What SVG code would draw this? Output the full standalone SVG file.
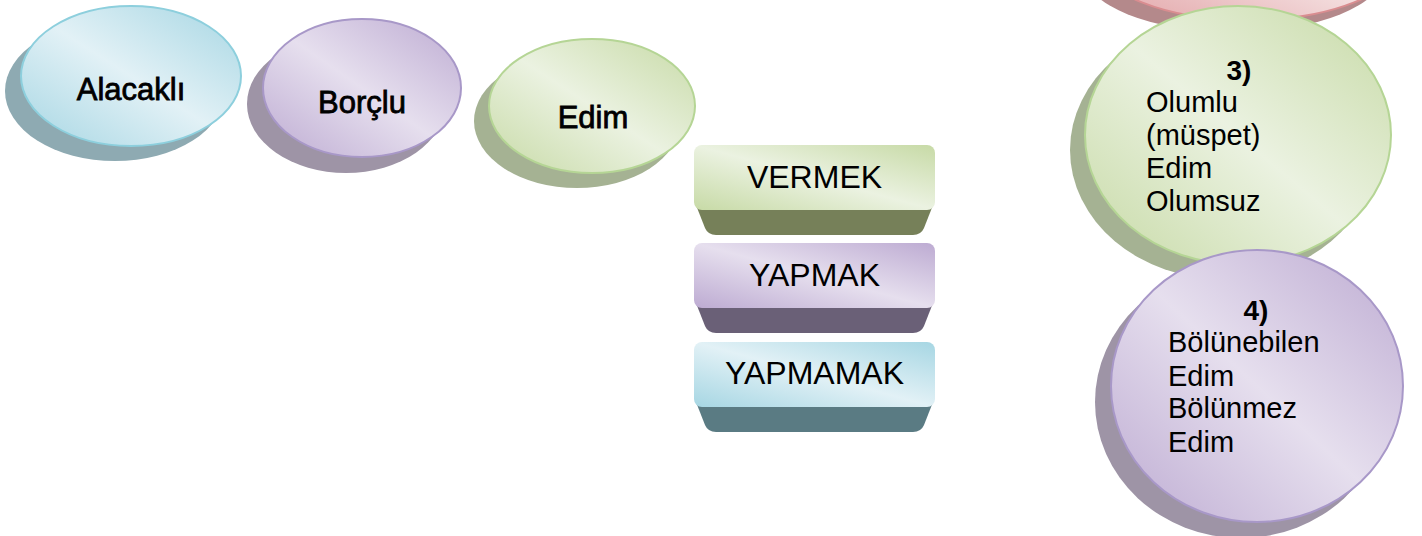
<svg xmlns="http://www.w3.org/2000/svg" width="1422" height="536" viewBox="0 0 1422 536">
<defs>
<linearGradient id="gCyan" x1="0" y1="1" x2="1" y2="0"><stop offset="0" stop-color="#a6d6e3"/><stop offset="0.5" stop-color="#e2f1f6"/><stop offset="1" stop-color="#a6d6e3"/></linearGradient>
<linearGradient id="gPurple" x1="0" y1="1" x2="1" y2="0"><stop offset="0" stop-color="#bdabd2"/><stop offset="0.5" stop-color="#e6dfee"/><stop offset="1" stop-color="#bdabd2"/></linearGradient>
<linearGradient id="gGreen" x1="0" y1="1" x2="1" y2="0"><stop offset="0" stop-color="#c7daa6"/><stop offset="0.5" stop-color="#ebf2e1"/><stop offset="1" stop-color="#c7daa6"/></linearGradient>
<linearGradient id="gPink" x1="0" y1="1" x2="1" y2="0"><stop offset="0" stop-color="#e2a3a6"/><stop offset="0.5" stop-color="#f3dcdd"/><stop offset="1" stop-color="#e2a3a6"/></linearGradient>
<style>
.lbl{font-family:"Liberation Sans",Arial,sans-serif;font-size:31px;fill:#000;stroke:#000;stroke-width:0.8;text-anchor:middle}
.box{font-family:"Liberation Sans",Arial,sans-serif;font-size:32px;fill:#000;text-anchor:middle}
.ct{font-family:"Liberation Sans",Arial,sans-serif;font-size:29px;fill:#000}
.num{font-family:"Liberation Sans",Arial,sans-serif;font-size:28px;font-weight:bold;fill:#000;text-anchor:middle}
.cy{fill:url(#gCyan);stroke:#8dcfdd;stroke-width:2}
.pu{fill:url(#gPurple);stroke:#a898c8;stroke-width:2}
.gr{fill:url(#gGreen);stroke:#b5d595;stroke-width:2}
.pk{fill:url(#gPink);stroke:#d98d90;stroke-width:2}
.shCy{fill:#8eaab2}.shPu{fill:#9e94a6}.shGr{fill:#a5b293}.shPk{fill:#b4898b}
</style>
</defs>
<g id="connectors"/>
<g id="alacakli">
<ellipse class="shCy" cx="115" cy="91" rx="110" ry="70"/>
<ellipse class="cy" cx="131" cy="76" rx="110" ry="70"/>
<text class="lbl" x="131" y="100">Alacaklı</text>
</g>
<g id="borclu">
<ellipse class="shPu" cx="346" cy="104" rx="99" ry="69"/>
<ellipse class="pu" cx="362" cy="88" rx="99" ry="69"/>
<text class="lbl" x="362" y="113">Borçlu</text>
</g>
<g id="edim">
<ellipse class="shGr" cx="577" cy="121" rx="103" ry="67"/>
<ellipse class="gr" cx="592" cy="106" rx="103" ry="67"/>
<text class="lbl" x="593" y="128">Edim</text>
</g>
<g id="vermek">
<path d="M694,200 L705,228 Q708,235 716,235 L913,235 Q921,235 924,228 L935,200 Z" fill="#768059"/>
<rect x="694" y="145" width="241" height="65" rx="8" fill="url(#gGreen)"/>
<text class="box" x="814.5" y="188">VERMEK</text>
</g>
<g id="yapmak">
<path d="M694,298 L705,326 Q708,333 716,333 L913,333 Q921,333 924,326 L935,298 Z" fill="#6a6077"/>
<rect x="694" y="243" width="241" height="65" rx="8" fill="url(#gPurple)"/>
<text class="box" x="814.5" y="286">YAPMAK</text>
</g>
<g id="yapmamak">
<path d="M694,397 L705,425 Q708,432 716,432 L913,432 Q921,432 924,425 L935,397 Z" fill="#5a7b83"/>
<rect x="694" y="342" width="241" height="65" rx="8" fill="url(#gCyan)"/>
<text class="box" x="814.5" y="384">YAPMAMAK</text>
</g>
<g id="pink">
<ellipse class="shPk" cx="1234" cy="-28" rx="150" ry="60"/>
<ellipse class="pk" cx="1248" cy="-40" rx="150" ry="60"/>
</g>
<g id="olumlu">
<ellipse class="shGr" cx="1223" cy="150" rx="153" ry="129"/>
<ellipse class="gr" cx="1238" cy="135" rx="153" ry="129"/>
<text class="num" x="1239" y="80">3)</text>
<text class="ct" x="1146" y="112">Olumlu</text>
<text class="ct" x="1146" y="145">(müspet)</text>
<text class="ct" x="1146" y="178">Edim</text>
<text class="ct" x="1146" y="211">Olumsuz</text>
</g>
<g id="bolunebilen">
<ellipse class="shPu" cx="1241" cy="402" rx="146" ry="136"/>
<ellipse class="pu" cx="1257" cy="386" rx="146" ry="136"/>
<text class="num" x="1256" y="320">4)</text>
<text class="ct" x="1168" y="352">Bölünebilen</text>
<text class="ct" x="1168" y="386">Edim</text>
<text class="ct" x="1168" y="418">Bölünmez</text>
<text class="ct" x="1168" y="452">Edim</text>
</g>
</svg>
